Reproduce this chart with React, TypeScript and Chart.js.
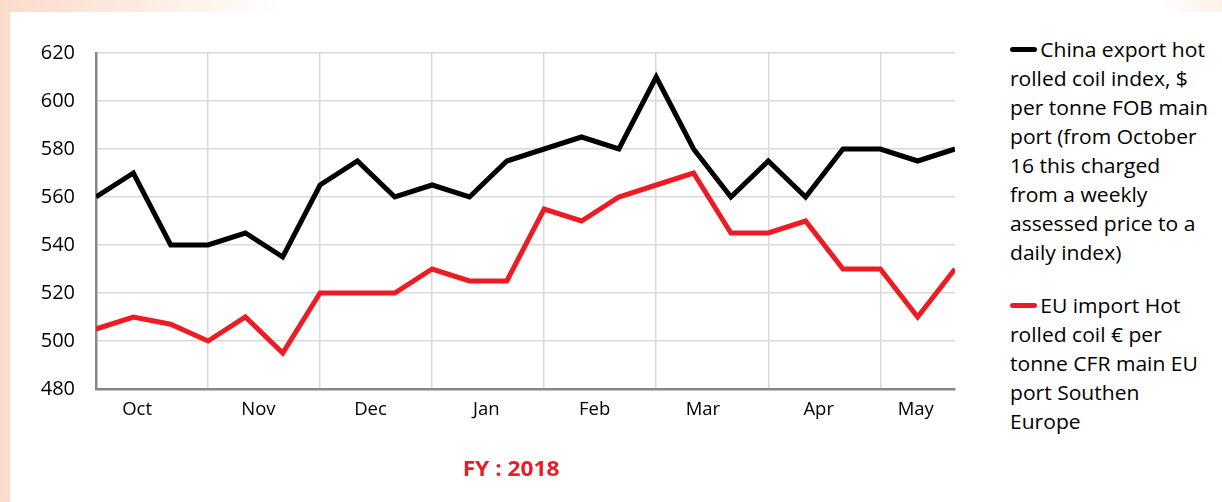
import React, { useEffect, useRef } from "react";
import { Chart, registerables } from "chart.js";

Chart.register(...registerables);

const months = ["Oct", "Nov", "Dec", "Jan", "Feb", "Mar", "Apr", "May"];
const monthLabelPos = [1.1, 4.35, 7.35, 10.45, 13.35, 16.25, 19.35, 21.95];
const monthGridPos = [0, 3, 6, 9, 12, 15, 18, 21];
const chinaExportHRC = [560, 570, 540, 540, 545, 535, 565, 575, 560, 565, 560, 575, 580, 585, 580, 610, 580, 560, 575, 560, 580, 580, 575, 580];
const euImportHRC = [505, 510, 507, 500, 510, 495, 520, 520, 520, 530, 525, 525, 555, 550, 560, 565, 570, 545, 545, 550, 530, 530, 510, 530];
const chinaLegend = [
  "China export hot",
  "rolled coil index, $",
  "per tonne FOB main",
  "port (from October",
  "16 this charged",
  "from a weekly",
  "assessed price to a",
  "daily index)",
];
const euLegend = ["EU import Hot", "rolled coil € per", "tonne CFR main EU", "port Southen", "Europe"];
const title = "FY : 2018";

const FONT = "'Open Sans', Lato, sans-serif";
const BLACK = "#000000";
const RED = "#ed1c24";

export default function App() {
  const ref = useRef<HTMLCanvasElement | null>(null);

  useEffect(() => {
    if (!ref.current) return;
    const chart = new Chart(ref.current, {
      type: "line",
      data: {
        datasets: [
          {
            label: chinaLegend.join(" "),
            data: chinaExportHRC.map((y, i) => ({ x: i, y })),
            borderColor: BLACK,
            backgroundColor: BLACK,
            borderWidth: 5,
            pointRadius: 0,
            tension: 0,
          },
          {
            label: euLegend.join(" "),
            data: euImportHRC.map((y, i) => ({ x: i, y })),
            borderColor: RED,
            backgroundColor: RED,
            borderWidth: 5,
            pointRadius: 0,
            tension: 0,
          },
        ],
      },
      options: {
        animation: false,
        responsive: false,
        maintainAspectRatio: false,
        layout: { padding: { left: 10, top: 53, right: 25, bottom: 73 } },
        plugins: { legend: { display: false }, tooltip: { enabled: false } },
        scales: {
          x: {
            type: "linear",
            min: 0,
            max: chinaExportHRC.length - 1,
            afterBuildTicks: (axis: any) => {
              const vals = [...monthGridPos, ...monthLabelPos].sort((a, b) => a - b);
              axis.ticks = vals.map((v) => ({ value: v }));
            },
            afterFit: (axis: any) => {
              axis.height = 40;
            },
            grid: {
              drawTicks: false,
              lineWidth: 1.5,
              color: (ctx: any) =>
                ctx.tick && monthGridPos.includes(ctx.tick.value) ? "#d9d9d9" : "rgba(0,0,0,0)",
            },
            border: { display: true, color: "#868686", width: 2.5 },
            ticks: {
              autoSkip: false,
              maxRotation: 0,
              padding: 10,
              color: "#000",
              font: { family: FONT, size: 18.5 },
              callback: (value: any) => {
                const idx = monthLabelPos.indexOf(Number(value));
                return idx >= 0 ? months[idx] : "";
              },
            },
          },
          y: {
            min: 480,
            max: 620,
            afterFit: (axis: any) => {
              axis.width = 86;
            },
            grid: { drawTicks: false, color: "#d9d9d9", lineWidth: 1.5 },
            border: { display: true, color: "#868686", width: 2.5 },
            ticks: {
              stepSize: 20,
              padding: 21,
              color: "#000",
              font: { family: FONT, size: 20 },
            },
          },
        },
      },
    });
    return () => chart.destroy();
  }, []);

  const lineStyle = (c: string): React.CSSProperties => ({
    display: "inline-block",
    width: 25,
    height: 5,
    borderRadius: 3,
    background: c,
    verticalAlign: "middle",
    marginRight: 3,
    position: "relative",
    top: -2,
  });

  return (
    <div
      style={{
        position: "fixed",
        left: 0,
        top: 0,
        width: 1222,
        height: 502,
        overflow: "hidden",
        background:
          "linear-gradient(90deg, #fcdaca 0%, #fde9df 10%, #ffffff 23%, #ffffff 95%, #fdf0ea 100%)",
      }}
    >
      <div style={{ position: "absolute", left: 10, top: 12, right: 0, bottom: 0, background: "#fff" }} />
      <canvas ref={ref} width={980} height={502} style={{ position: "absolute", left: 0, top: 0 }} />
      <div
        style={{
          position: "absolute",
          left: 1010,
          top: 35,
          fontFamily: FONT,
          fontSize: 19.5,
          lineHeight: "29px",
          color: "#000",
          whiteSpace: "nowrap",
          transform: "scaleX(1.08)",
          transformOrigin: "0 0",
        }}
      >
        <div>
          {chinaLegend.map((t, i) => (
            <div key={i}>
              {i === 0 && <span style={lineStyle(BLACK)} />}
              {t}
            </div>
          ))}
        </div>
        <div style={{ marginTop: 24 }}>
          {euLegend.map((t, i) => (
            <div key={i}>
              {i === 0 && <span style={lineStyle(RED)} />}
              {t}
            </div>
          ))}
        </div>
      </div>
      <div
        style={{
          position: "absolute",
          left: 411,
          width: 200,
          top: 454,
          textAlign: "center",
          fontFamily: FONT,
          fontWeight: "bold",
          fontSize: 21,
          color: RED,
          transform: "scaleX(1.08)",
        }}
      >
        {title}
      </div>
    </div>
  );
}
